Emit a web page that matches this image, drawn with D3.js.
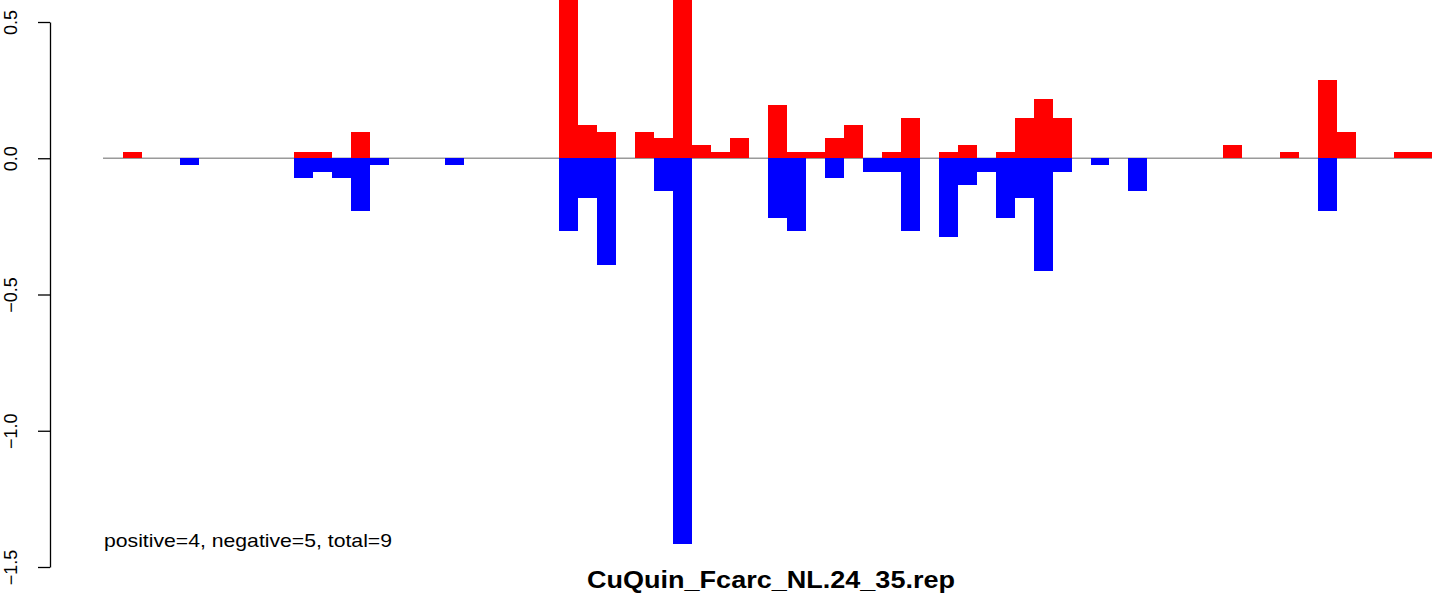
<!DOCTYPE html>
<html>
<head>
<meta charset="utf-8">
<script src="https://cdn.jsdelivr.net/npm/d3@7"></script>
<style>
  body { margin: 0; background: #fff; }
  svg { display: block; }
  text { font-family: "Liberation Sans", Arial, Helvetica, sans-serif; }
</style>
</head>
<body>
<div id="container"></div>
<script>
/* DATA */
// 70 bins along the x axis, red = positive, blue = negative (magnitude drawn downward)
const bins = d3.range(70);
const positive = [
  0, 0.024, 0, 0, 0, 0, 0, 0, 0, 0,
  0.024, 0.024, 0, 0.098, 0, 0, 0, 0, 0, 0,
  0, 0, 0, 0, 0.62, 0.122, 0.098, 0, 0.098, 0.073,
  0.62, 0.049, 0.024, 0.073, 0, 0.195, 0.024, 0.024, 0.073, 0.122,
  0, 0.024, 0.147, 0, 0.024, 0.049, 0, 0.024, 0.147, 0.218,
  0.147, 0, 0, 0, 0, 0, 0, 0, 0, 0.049,
  0, 0, 0.024, 0, 0.287, 0.098, 0, 0, 0.024, 0.024
];
const negative = [
  0, 0, 0, 0, 0.024, 0, 0, 0, 0, 0,
  0.073, 0.049, 0.073, 0.195, 0.024, 0, 0, 0, 0.024, 0,
  0, 0, 0, 0, 0.266, 0.147, 0.39, 0, 0, 0.122,
  1.415, 0, 0, 0, 0, 0.218, 0.266, 0, 0.073, 0,
  0.049, 0.049, 0.266, 0, 0.29, 0.098, 0.049, 0.218, 0.147, 0.413,
  0.049, 0, 0.024, 0, 0.122, 0, 0, 0, 0, 0,
  0, 0, 0, 0, 0.195, 0, 0, 0, 0, 0
];
const yTicks = [-1.5, -1.0, -0.5, 0.0, 0.5];
const title = "CuQuin_Fcarc_NL.24_35.rep";
const note = "positive=4, negative=5, total=9";

/* CONSTANTS */
const width = 1449,
  height = 597,
  plot = { left: 104, right: 1432, top: 22, bottom: 567 },
  axisX = 50;

/* SCALES */
const xScale = d3.scaleBand()
  .domain(bins)
  .range([plot.left, plot.right])
  .padding(0);

const yScale = d3.scaleLinear()
  .domain([-1.5, 0.5])
  .range([plot.bottom, plot.top]);

/* SVG */
const svg = d3.select("#container")
  .append("svg")
  .attr("width", width)
  .attr("height", height);

// zero line first, bars cover it
svg.append("line")
  .attr("x1", plot.left - 1)
  .attr("x2", plot.right)
  .attr("y1", yScale(0))
  .attr("y2", yScale(0))
  .attr("stroke", "#9a9a9a")
  .attr("stroke-width", 1.4);

svg.append("g")
  .selectAll("rect")
  .data(bins.filter(i => positive[i] > 0))
  .join("rect")
  .attr("x", i => xScale(i))
  .attr("width", xScale.bandwidth())
  .attr("y", i => yScale(positive[i]))
  .attr("height", i => yScale(0) - yScale(positive[i]))
  .attr("fill", "#ff0000")
  .attr("shape-rendering", "crispEdges");

svg.append("g")
  .selectAll("rect")
  .data(bins.filter(i => negative[i] > 0))
  .join("rect")
  .attr("x", i => xScale(i))
  .attr("width", xScale.bandwidth())
  .attr("y", yScale(0))
  .attr("height", i => yScale(-negative[i]) - yScale(0))
  .attr("fill", "#0000ff")
  .attr("shape-rendering", "crispEdges");

/* AXIS */
const yAxis = d3.axisLeft(yScale)
  .tickValues(yTicks)
  .tickSize(12)
  .tickSizeOuter(0)
  .tickFormat(d => d3.format(".1f")(d).replace("-", "\u2212"));

const gy = svg.append("g")
  .attr("transform", `translate(${axisX},0)`)
  .call(yAxis);

gy.select(".domain").attr("stroke", "#000").attr("stroke-width", 1.3);
gy.selectAll(".tick line").attr("stroke", "#000").attr("stroke-width", 1.3);
gy.selectAll(".tick text")
  .attr("transform", "rotate(-90)")
  .attr("x", 0)
  .attr("y", -33)
  .attr("dy", 0)
  .attr("text-anchor", "middle")
  .attr("fill", "#000")
  .style("font-size", "18px")
  .style("font-family", "'Liberation Sans', Arial, sans-serif");

/* TEXT */
svg.append("text")
  .attr("x", 104)
  .attr("y", 547)
  .attr("textLength", 288)
  .attr("lengthAdjust", "spacingAndGlyphs")
  .style("font-size", "18.5px")
  .text(note);

svg.append("text")
  .attr("x", 771)
  .attr("y", 588)
  .attr("text-anchor", "middle")
  .attr("textLength", 368)
  .attr("lengthAdjust", "spacingAndGlyphs")
  .style("font-size", "23px")
  .style("font-weight", "bold")
  .text(title);
</script>
</body>
</html>
